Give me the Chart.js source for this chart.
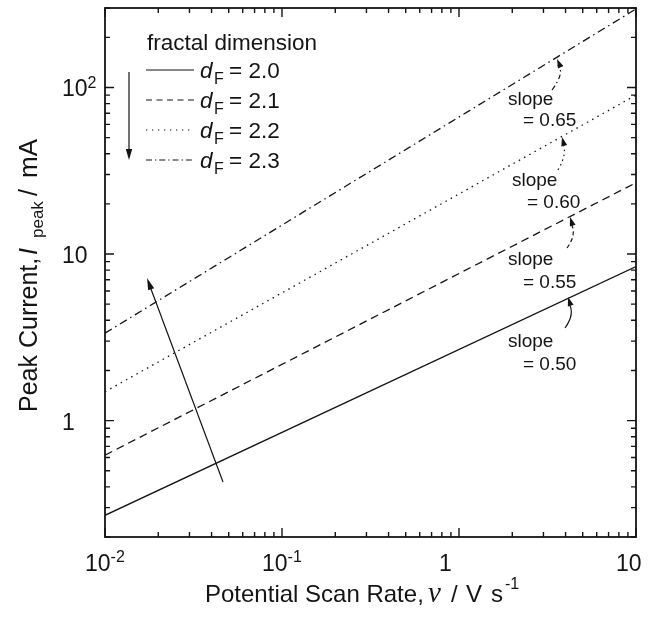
<!DOCTYPE html>
<html lang="en">
<head>
<meta charset="utf-8">
<script src="https://cdn.jsdelivr.net/npm/chart.js"></script>
<style>
  html, body { margin: 0; padding: 0; background: #fff; }
  #wrap { width: 656px; height: 618px; }
</style>
</head>
<body>
<div id="wrap"><canvas id="chart" width="656" height="618"></canvas></div>
<script>
// scan rate (V/s) at both ends of the plotted range
const scanRates = [0.01, 10];
// peak current (mA) at those two scan rates
const peakDF20 = [0.27, 8.4];
const peakDF21 = [0.62, 26.8];
const peakDF22 = [1.49, 90];
const peakDF23 = [3.35, 296];

const dimLabels = ['2.0', '2.1', '2.2', '2.3'];
const slopeLabels = ['0.50', '0.55', '0.60', '0.65'];

// axis ticks
const xMajor = [0.01, 0.1, 1, 10];
const xTickText = [['10', '-2'], ['10', '-1'], ['1', ''], ['10', '']];
const yMajor = [1, 10, 100];
const yTickText = [['1', ''], ['10', ''], ['10', '2']];
const minorSteps = [2, 3, 4, 5, 6, 7, 8, 9];

const SANS = '"Liberation Sans", Arial, Helvetica, sans-serif';
const SERIF = '"Liberation Serif", "Times New Roman", serif';
const INK = '#141414';

const series = [peakDF20, peakDF21, peakDF22, peakDF23];
const lineDash = [[], [8, 5], [1.5, 4.5], [8, 4, 1.5, 4]];
const legendDash = [[], [6, 4.5], [1.3, 4.7], [6, 3, 1.3, 3]];
const arrowDash = [[], [4, 3], [1.5, 3.5], [5, 3, 1.5, 3]];

function toPoints(ys) {
    return scanRates.map((x, i) => ({ x: x, y: ys[i] }));
}

function drawPowerLabel(ctx, base, sup, x0, y, size) {
    ctx.textAlign = 'left';
    ctx.font = size + 'px ' + SANS;
    const wb = ctx.measureText(base).width;
    ctx.fillText(base, x0, y);
    if (sup) {
        ctx.font = Math.round(size * 0.7) + 'px ' + SANS;
        ctx.fillText(sup, x0 + wb, y - size * 0.38);
    }
}

function arrowHead(ctx, fromX, fromY, tipX, tipY, len, half) {
    const a = Math.atan2(tipY - fromY, tipX - fromX);
    ctx.save();
    ctx.setLineDash([]);
    ctx.beginPath();
    ctx.moveTo(tipX, tipY);
    ctx.lineTo(tipX - len * Math.cos(a) + half * Math.sin(a), tipY - len * Math.sin(a) - half * Math.cos(a));
    ctx.lineTo(tipX - len * Math.cos(a) - half * Math.sin(a), tipY - len * Math.sin(a) + half * Math.cos(a));
    ctx.closePath();
    ctx.fill();
    ctx.restore();
}

const decor = {
    id: 'decor',
    afterDraw(chart) {
        const ctx = chart.ctx;
        const area = chart.chartArea;
        const xs = chart.scales.x;
        const ys = chart.scales.y;
        ctx.save();
        ctx.strokeStyle = INK;
        ctx.fillStyle = INK;
        ctx.textBaseline = 'alphabetic';

        // frame
        ctx.lineWidth = 1.8;
        ctx.strokeRect(area.left, area.top, area.right - area.left, area.bottom - area.top);

        // inward ticks on all four sides
        ctx.lineWidth = 1.4;
        function xTick(v, len) {
            const px = xs.getPixelForValue(v);
            ctx.beginPath();
            ctx.moveTo(px, area.bottom); ctx.lineTo(px, area.bottom - len);
            ctx.moveTo(px, area.top); ctx.lineTo(px, area.top + len);
            ctx.stroke();
        }
        function yTick(v, len) {
            const py = ys.getPixelForValue(v);
            ctx.beginPath();
            ctx.moveTo(area.left, py); ctx.lineTo(area.left + len, py);
            ctx.moveTo(area.right, py); ctx.lineTo(area.right - len, py);
            ctx.stroke();
        }
        xMajor.forEach(v => xTick(v, 9));
        xMajor.slice(0, -1).forEach(d => minorSteps.forEach(m => xTick(d * m, 5)));
        [0.1, 1, 10, 100].forEach(d => minorSteps.forEach(m => {
            const v = d * m;
            if (v >= ys.min && v <= ys.max) yTick(v, 5);
        }));
        yMajor.forEach(v => yTick(v, 9));

        // tick labels
        xMajor.forEach((v, i) => {
            drawPowerLabel(ctx, xTickText[i][0], xTickText[i][1], xs.getPixelForValue(v) - 20, 571, 23);
        });
        yMajor.forEach((v, i) => {
            drawPowerLabel(ctx, yTickText[i][0], yTickText[i][1], 62, ys.getPixelForValue(v) + 9, 23);
        });

        // x axis title
        ctx.textAlign = 'left';
        ctx.font = '24px ' + SANS;
        ctx.fillText('Potential Scan Rate,', 205, 602);
        ctx.font = 'italic 29px ' + SERIF;
        ctx.fillText('\u03bd', 428, 602);
        ctx.font = '24px ' + SANS;
        ctx.fillText('/', 451, 602);
        ctx.fillText('V', 466, 602);
        ctx.fillText('s', 491, 602);
        ctx.font = '16px ' + SANS;
        ctx.fillText('-1', 505, 589);

        // y axis title (rotated)
        ctx.save();
        ctx.translate(37, 0);
        ctx.rotate(-Math.PI / 2);
        ctx.font = '25px ' + SANS;
        ctx.fillText('Peak Current,', -412, 0);
        ctx.font = 'italic 25px ' + SANS;
        ctx.fillText('I', -255, 0);
        ctx.font = '17px ' + SANS;
        ctx.fillText('peak', -238, 6);
        ctx.font = '25px ' + SANS;
        ctx.fillText('/', -196, 0);
        ctx.font = '26px ' + SANS;
        ctx.fillText('mA', -178, 0);
        ctx.restore();

        // legend
        ctx.font = '22.5px ' + SANS;
        ctx.fillText('fractal dimension', 147, 50);
        dimLabels.forEach((lab, i) => {
            const base = 78 + 30 * i;
            ctx.save();
            ctx.lineWidth = 1.2;
            ctx.setLineDash(legendDash[i]);
            ctx.beginPath();
            ctx.moveTo(146, base - 8);
            ctx.lineTo(194, base - 8);
            ctx.stroke();
            ctx.restore();
            ctx.font = 'italic 22.5px ' + SANS;
            ctx.fillText('d', 200, base);
            ctx.font = '16px ' + SANS;
            ctx.fillText('F', 214, base + 6);
            ctx.font = '22.5px ' + SANS;
            ctx.fillText('= ' + lab, 229, base);
        });

        // downward arrow beside legend
        ctx.lineWidth = 1.2;
        ctx.beginPath();
        ctx.moveTo(129, 72);
        ctx.lineTo(129, 152);
        ctx.stroke();
        arrowHead(ctx, 129, 72, 129, 160, 11, 3.2);

        // long arrow across the lines
        ctx.beginPath();
        ctx.moveTo(223, 482);
        ctx.lineTo(149.5, 285);
        ctx.stroke();
        arrowHead(ctx, 223, 482, 147, 278, 12, 3.2);

        // slope annotations with curved arrows
        const notes = [
            { s: [508, 347], e: [523, 370], p0: [565, 328], c: [575.5, 313.5], p1: [568, 297] },
            { s: [508, 265], e: [523, 288], p0: [567, 248], c: [577.5, 233.5], p1: [570, 217] },
            { s: [512, 186], e: [527, 208], p0: [558, 170], c: [568, 152.5], p1: [562, 137] },
            { s: [508, 105], e: [523, 126], p0: [552, 90], c: [565.5, 71.5], p1: [557, 59] }
        ];
        notes.forEach((n, i) => {
            ctx.font = '19px ' + SANS;
            ctx.fillText('slope', n.s[0], n.s[1]);
            ctx.fillText('= ' + slopeLabels[i], n.e[0], n.e[1]);
            ctx.save();
            ctx.lineWidth = 1.2;
            ctx.setLineDash(arrowDash[i]);
            ctx.beginPath();
            ctx.moveTo(n.p0[0], n.p0[1]);
            ctx.quadraticCurveTo(n.c[0], n.c[1], n.p1[0] + 0.6, n.p1[1] + 6);
            ctx.stroke();
            ctx.restore();
            arrowHead(ctx, n.c[0] - 1, n.c[1] + 4, n.p1[0], n.p1[1], 9, 3);
        });

        ctx.restore();
    }
};

new Chart(document.getElementById('chart'), {
    type: 'scatter',
    data: {
        datasets: series.map((s, i) => ({
            label: 'dF = ' + dimLabels[i],
            data: toPoints(s),
            showLine: true,
            borderColor: INK,
            borderWidth: 1.3,
            borderDash: lineDash[i],
            pointRadius: 0,
            fill: false
        }))
    },
    options: {
        responsive: false,
        animation: false,
        layout: { padding: { left: 105, right: 20, top: 8, bottom: 81 } },
        plugins: { legend: { display: false }, tooltip: { enabled: false } },
        scales: {
            x: { type: 'logarithmic', min: 0.01, max: 10, display: false },
            y: { type: 'logarithmic', min: 0.2, max: 300, display: false }
        }
    },
    plugins: [decor]
});
</script>
</body>
</html>
